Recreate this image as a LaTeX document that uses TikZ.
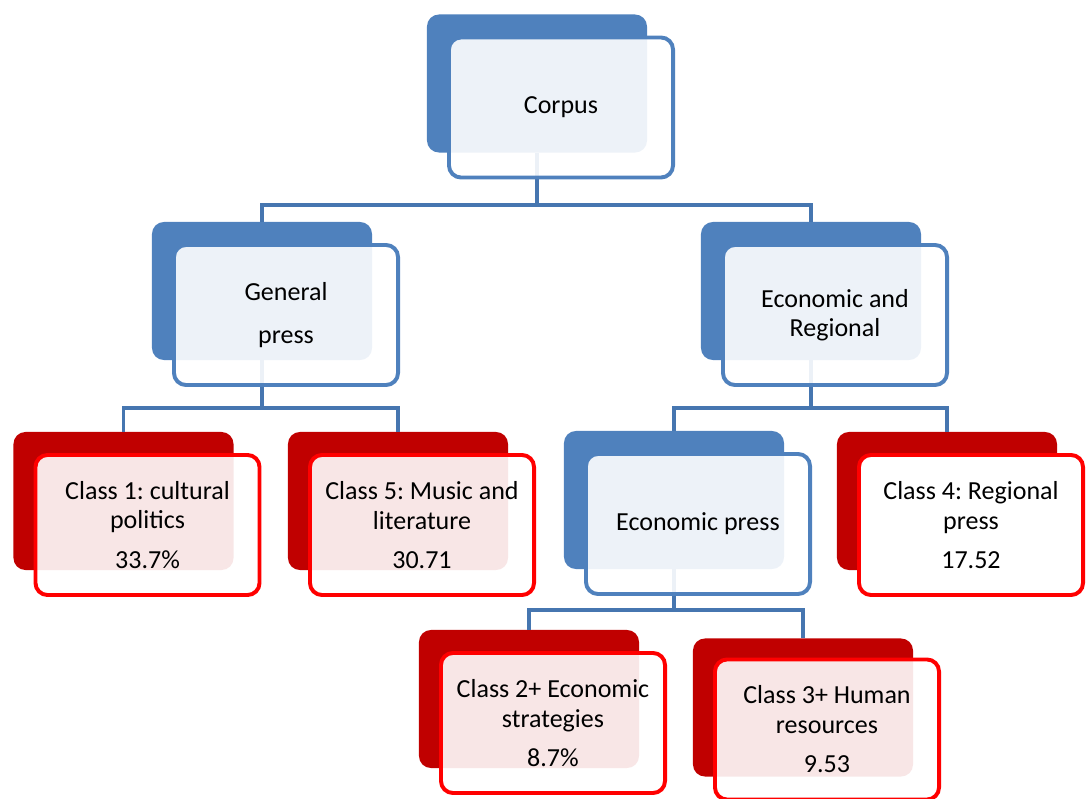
\documentclass[tikz,border=0pt]{standalone}
\usepackage{fontspec}
\setmainfont{Carlito}
\usetikzlibrary{positioning}

\definecolor{boxblue}{HTML}{4F81BD}
\definecolor{linkblue}{HTML}{4676B0}
\definecolor{boxred}{HTML}{C00000}
\definecolor{edgered}{HTML}{FF0000}

\frenchspacing
\begin{document}
\begin{tikzpicture}[x=0.025cm,y=-0.025cm,
  back/.style={rectangle,rounded corners=0.3cm,minimum width=5.5cm,
    minimum height=3.45cm,inner sep=0pt},
  backblue/.style={back,fill=boxblue},
  backred/.style={back,fill=boxred},
  front/.style={rectangle,rounded corners=0.3cm,minimum width=5.6cm,
    minimum height=3.5cm,line width=2.8pt,fill=white,fill opacity=0.9,
    text opacity=1,align=center,font=\fontsize{18.5}{21}\selectfont},
  frontblue/.style={front,draw=boxblue},
  frontred/.style={front,draw=edgered},
  link/.style={draw=linkblue,line width=2.2pt}]
  \useasboundingbox (0,0) rectangle (1087,799);

  % back plates
  \node[backblue] (corpusback) at (537,83.5) {};
  \node[backblue] (generalback) at (262,291) {};
  \node[backblue] (econregback) at (811,291) {};
  \node[backred] (class1back) at (123.5,501) {};
  \node[backred] (class5back) at (398,501) {};
  \node[backblue] (econback) at (674,500) {};
  \node[backred] (class4back) at (947,501) {};
  \node[backred] (class2back) at (529,699) {};
  \node[backred] (class3back) at (803,707.5) {};

  % tree links
  \coordinate (corpusbus) at (537,205);
  \coordinate (generalbus) at (262,408);
  \coordinate (econregbus) at (811,408);
  \coordinate (econbus) at (674,610);
  \draw[link] (corpusback.south) -- (corpusbus) -| (generalback.north);
  \draw[link] (corpusbus) -| (econregback.north);
  \draw[link] (generalback.south) -- (generalbus) -| (class1back.north);
  \draw[link] (generalbus) -| (class5back.north);
  \draw[link] (econregback.south) -- (econregbus) -| (econback.north);
  \draw[link] (econregbus) -| (class4back.north);
  \draw[link] (econback.south) -- (econbus) -| (class2back.north);
  \draw[link] (econbus) -| (class3back.north);

  % front plates
  \node[frontblue] (corpus) at ([shift={(24,24)}]corpusback.center) {Corpus};
  \node[frontblue] (general) at ([shift={(24,24)}]generalback.center)
    {General\\[9pt]press};
  \node[frontblue] (econreg) at ([shift={(24,24)}]econregback.center)
    {Economic and\\Regional};
  \node[frontred] (class1) at ([shift={(24,24)}]class1back.center)
    {Class 1: cultural\\politics\\[7pt]33.7\%};
  \node[frontred] (class5) at ([shift={(24,24)}]class5back.center)
    {Class 5: Music and\\literature\\[7pt]30.71};
  \node[frontblue] (econ) at ([shift={(24,24)}]econback.center) {Economic press};
  \node[frontred,fill opacity=1] (class4) at ([shift={(24,24)}]class4back.center)
    {Class 4: Regional\\press\\[7pt]17.52};
  \node[frontred] (class2) at ([shift={(24,24)}]class2back.center)
    {Class 2+ Economic\\strategies\\[7pt]8.7\%};
  \node[frontred] (class3) at ([shift={(24,22)}]class3back.center)
    {Class 3+ Human\\resources\\[7pt]9.53};
\end{tikzpicture}
\end{document}
